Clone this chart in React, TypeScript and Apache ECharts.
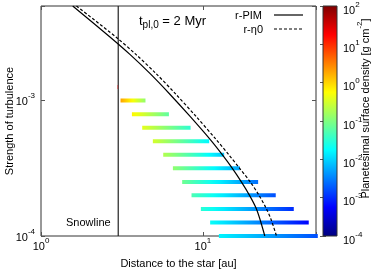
import { useEffect, useRef } from "react";
import * as echarts from "echarts";

const FONT = '"Liberation Sans", Arial, Helvetica, sans-serif';

// axis ranges
const X_MIN = 1;
const X_MAX = 50;
const Y_MIN = 1e-4;
const Y_MAX = 5e-3;
const CB_MIN = 1e-4;
const CB_MAX = 1e2;
const SNOWLINE_AU = 3;

// r-PIM (solid) and r-eta0 (dashed) curves: distance [au] vs alpha
const curveAlpha = [5.0e-3, 2.949e-3, 2.194e-3, 1.588e-3, 1.115e-3, 7.67e-4, 5.19e-4, 4.02e-4, 3.195e-4, 2.476e-4, 1.978e-4, 1.621e-4, 1.34e-4, 1.0e-4];
const pimR = [1.57, 2.667, 3.542, 4.708, 6.256, 8.315, 11.05, 13.1, 15.1, 17.41, 19.5, 21.24, 22.48, 24.14];
const eta0R = [1.656, 2.904, 3.858, 5.128, 6.813, 9.053, 12.03, 14.37, 16.75, 19.79, 22.33, 24.48, 26.29, 28.51];

// planetesimal belts: one row per turbulence strength
const rowAlpha = [1e-3, 7.94e-4, 6.31e-4, 5.01e-4, 3.98e-4, 3.16e-4, 2.51e-4, 2.0e-4, 1.58e-4, 1.26e-4, 1e-4];
const rowStart = [3.1, 3.645, 4.22, 4.91, 5.69, 6.53, 7.45, 8.51, 9.72, 11.09, 12.56];
const rowEnd = [4.42, 6.17, 8.4, 10.94, 13.54, 16.92, 21.95, 28.2, 36.45, 45.1, 51.3];
const rowLogSigmaStart = [0.3, -0.2, -0.4, -0.5, -0.7, -0.9, -1.1, -1.3, -1.5, -1.7, -1.8];
const rowLogSigmaEnd = [-0.9, -1.2, -1.5, -1.8, -2.1, -2.3, -2.6, -2.8, -3.0, -3.25, -2.8];

// isolated faint point near the snowline
const spotStart = [2.95];
const spotEnd = [3.0];
const spotAlpha = [1.26e-3];
const spotLogSigma = [1.3];

const clamp = (v: number) => Math.max(0, Math.min(1, v));
function jet(t: number) {
  const tt = clamp(t);
  const r = clamp(1.5 - Math.abs(4 * tt - 3));
  const g = clamp(1.5 - Math.abs(4 * tt - 2));
  const b = clamp(1.5 - Math.abs(4 * tt - 1));
  return `rgb(${Math.round(r * 255)},${Math.round(g * 255)},${Math.round(b * 255)})`;
}
const LMIN = Math.log10(CB_MIN);
const LMAX = Math.log10(CB_MAX);
const sigmaColor = (logS: number) => jet((logS - LMIN) / (LMAX - LMIN));

const powLabel = (v: number) => {
  const l = Math.log10(v);
  const e = Math.round(l);
  if (Math.abs(l - e) > 1e-3) return "";
  return `{b|10}{s|${e}}`;
};
const powRich = {
  b: { fontSize: 11, lineHeight: 12, verticalAlign: "bottom", fontFamily: FONT, color: "#000" },
  s: { fontSize: 8, lineHeight: 10, padding: [0, 0, 7, 0], verticalAlign: "bottom", fontFamily: FONT, color: "#000" },
};

const BAR_H = 4;
const TICK = { show: true, inside: true, length: 4, lineStyle: { color: "#555", width: 1 } };

export default function App() {
  const ref = useRef<HTMLDivElement>(null);
  useEffect(() => {
    if (!ref.current) return;
    const chart = echarts.init(ref.current, undefined, { renderer: "svg" });

    const rows = rowAlpha.map((a, i) => [rowStart[i], rowEnd[i], a, rowLogSigmaStart[i], rowLogSigmaEnd[i]]);
    const spots = spotAlpha.map((a, i) => [spotStart[i], spotEnd[i], a, spotLogSigma[i], spotLogSigma[i]]);

    const renderBar = (opacity: number) => (params: any, api: any) => {
      const p0 = api.coord([api.value(0), api.value(2)]);
      const p1 = api.coord([api.value(1), api.value(2)]);
      const s0 = api.value(3);
      const s1 = api.value(4);
      const stops = [];
      for (let k = 0; k <= 8; k++) {
        const t = k / 8;
        stops.push({ offset: t, color: sigmaColor(s0 + (s1 - s0) * t) });
      }
      return {
        type: "rect",
        shape: { x: p0[0], y: p0[1] - BAR_H / 2, width: p1[0] - p0[0], height: BAR_H },
        style: { fill: new echarts.graphic.LinearGradient(0, 0, 1, 0, stops), opacity },
      };
    };

    const jetKnots = [0, 0.125, 0.375, 0.625, 0.875, 1];

    const option: any = {
      animation: false,
      textStyle: { fontFamily: FONT },
      grid: [
        { left: 41, top: 6, width: 275, height: 230, show: true, borderColor: "#333", borderWidth: 1, backgroundColor: "transparent", containLabel: false, outerBoundsMode: "none" },
        { left: 323, top: 6, width: 14, height: 230, containLabel: false, outerBoundsMode: "none" },
      ],
      xAxis: [
        {
          gridIndex: 0, type: "log", logBase: 10, min: X_MIN, max: X_MAX, position: "bottom",
          axisLine: { show: false }, axisTick: TICK, splitLine: { show: false },
          axisLabel: { margin: 3, formatter: powLabel, rich: powRich },
          name: "Distance to the star [au]", nameLocation: "middle", nameGap: 21, nameMoveOverlap: false,
          nameTextStyle: { fontSize: 11, color: "#000", fontFamily: FONT },
        },
        {
          gridIndex: 0, type: "log", logBase: 10, min: X_MIN, max: X_MAX, position: "top",
          axisLine: { show: false }, axisTick: TICK, splitLine: { show: false }, axisLabel: { show: false },
        },
        { gridIndex: 1, type: "value", min: 0, max: 1, show: false },
      ],
      yAxis: [
        {
          gridIndex: 0, type: "log", logBase: 10, min: Y_MIN, max: Y_MAX, position: "left",
          axisLine: { show: false }, axisTick: TICK, splitLine: { show: false },
          axisLabel: { margin: 6, formatter: powLabel, rich: powRich },
          name: "Strength of turbulence", nameLocation: "middle", nameGap: 27, nameRotate: 90, nameMoveOverlap: false,
          nameTextStyle: { fontSize: 11, color: "#000", fontFamily: FONT },
        },
        {
          gridIndex: 0, type: "log", logBase: 10, min: Y_MIN, max: Y_MAX, position: "right",
          axisLine: { show: false }, axisTick: TICK, splitLine: { show: false }, axisLabel: { show: false },
        },
        {
          gridIndex: 1, type: "log", logBase: 10, min: CB_MIN, max: CB_MAX, position: "right",
          axisLine: { show: false }, axisTick: { ...TICK, length: 3 }, splitLine: { show: false },
          axisLabel: { margin: 6, padding: [6, 0, 0, 0], formatter: powLabel, rich: powRich },
        },
        {
          gridIndex: 1, type: "log", logBase: 10, min: CB_MIN, max: CB_MAX, position: "left",
          axisLine: { show: false }, axisTick: { ...TICK, length: 3 }, splitLine: { show: false }, axisLabel: { show: false },
        },
      ],
      series: [
        {
          type: "custom", name: "belts", xAxisIndex: 0, yAxisIndex: 0, data: rows,
          encode: { x: [0, 1], y: 2 }, renderItem: renderBar(1), clip: false, silent: true, z: 2,
        },
        {
          type: "custom", name: "spot", xAxisIndex: 0, yAxisIndex: 0, data: spots,
          encode: { x: [0, 1], y: 2 }, renderItem: renderBar(0.35), clip: false, silent: true, z: 5,
        },
        {
          type: "line", name: "snowline", xAxisIndex: 0, yAxisIndex: 0,
          data: [[SNOWLINE_AU, Y_MIN], [SNOWLINE_AU, Y_MAX]],
          symbol: "none", lineStyle: { color: "#222", width: 1.2 }, silent: true, z: 3,
        },
        {
          type: "line", name: "r-PIM", xAxisIndex: 0, yAxisIndex: 0,
          data: pimR.map((r, i) => [r, curveAlpha[i]]), smooth: 0.3,
          symbol: "none", lineStyle: { color: "#000", width: 1.2 }, silent: true, z: 4,
        },
        {
          type: "line", name: "r-η0", xAxisIndex: 0, yAxisIndex: 0,
          data: eta0R.map((r, i) => [r, curveAlpha[i]]), smooth: 0.3,
          symbol: "none", lineStyle: { color: "#000", width: 1.2, type: [3, 2] }, silent: true, z: 4,
        },
        {
          type: "custom", name: "colorbar", xAxisIndex: 2, yAxisIndex: 2,
          data: [[0, 1, CB_MIN, CB_MAX]], encode: { x: [0, 1], y: [2, 3] },
          renderItem: (params: any, api: any) => {
            const p0 = api.coord([api.value(0), api.value(2)]);
            const p1 = api.coord([api.value(1), api.value(3)]);
            return {
              type: "rect",
              shape: { x: p0[0], y: p1[1], width: p1[0] - p0[0], height: p0[1] - p1[1] },
              style: {
                fill: new echarts.graphic.LinearGradient(0, 1, 0, 0, jetKnots.map((t) => ({ offset: t, color: jet(t) }))),
                stroke: "#333", lineWidth: 1,
              },
            };
          },
          silent: true, z: 1,
        },
      ],
      graphic: [
        {
          type: "text", x: 139, y: 13.5, silent: true,
          style: {
            text: "{t|t}{sub|pl,0}{t| = 2 Myr}", align: "left", verticalAlign: "top",
            textAlign: "left", textVerticalAlign: "top",
            rich: {
              t: { fontSize: 13, lineHeight: 14, verticalAlign: "top", fontFamily: FONT, color: "#000" },
              sub: { fontSize: 10, lineHeight: 10, padding: [6, 0, 0, 0], verticalAlign: "top", fontFamily: FONT, color: "#000" },
            },
          },
        },
        {
          type: "text", x: 262, y: 15, silent: true,
          style: { text: "r-PIM", font: `11px ${FONT}`, fill: "#000", align: "right", verticalAlign: "middle", textAlign: "right", textVerticalAlign: "middle" },
        },
        { type: "line", silent: true, shape: { x1: 274, y1: 15, x2: 303, y2: 15 }, style: { stroke: "#000", lineWidth: 1.2 } },
        {
          type: "text", x: 263, y: 29, silent: true,
          style: { text: "r-η0", font: `11px ${FONT}`, fill: "#000", align: "right", verticalAlign: "middle", textAlign: "right", textVerticalAlign: "middle" },
        },
        { type: "line", silent: true, shape: { x1: 274, y1: 29, x2: 303, y2: 29 }, style: { stroke: "#000", lineWidth: 1.2, lineDash: [3, 2] } },
        {
          type: "text", x: 66, y: 222, silent: true,
          style: { text: "Snowline", font: `11px ${FONT}`, fill: "#000", align: "left", verticalAlign: "middle", textAlign: "left", textVerticalAlign: "middle" },
        },
        {
          type: "text", x: 364, y: 108.5, rotation: Math.PI / 2, silent: true,
          style: {
            text: "{a|Planetesimal surface density [g cm}{s|-2}{a|]}", align: "center", verticalAlign: "middle",
            textAlign: "center", textVerticalAlign: "middle",
            rich: {
              a: { fontSize: 11, lineHeight: 12, verticalAlign: "bottom", fontFamily: FONT, color: "#000" },
              s: { fontSize: 8, lineHeight: 10, padding: [0, 0, 7, 0], verticalAlign: "bottom", fontFamily: FONT, color: "#000" },
            },
          },
        },
      ],
    };

    chart.setOption(option);
    return () => chart.dispose();
  }, []);
  return <div ref={ref} style={{ position: "fixed", left: 0, top: 0, width: 374, height: 270 }} />;
}
